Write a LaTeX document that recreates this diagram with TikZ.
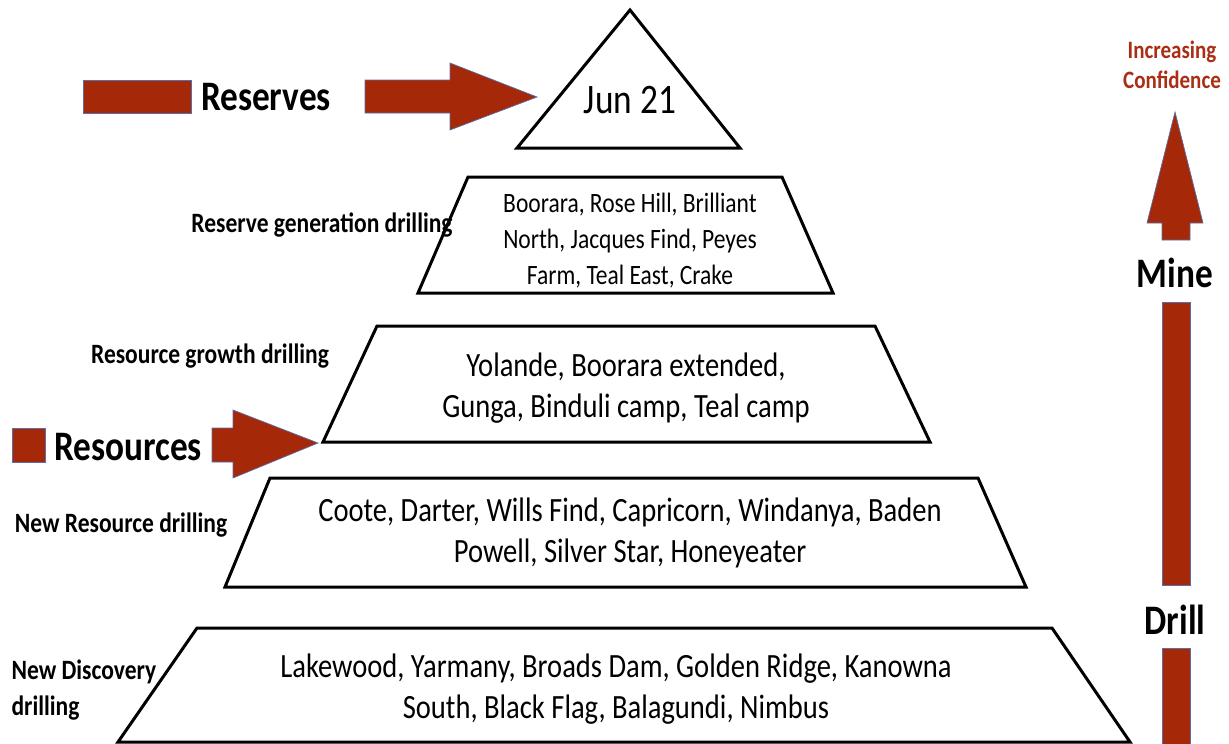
\documentclass[tikz,border=0pt]{standalone}
\usepackage{fontspec}
\setmainfont{Carlito}[FakeStretch=0.84]
\definecolor{arrowred}{RGB}{165,40,8}
\definecolor{arrowedge}{RGB}{90,110,170}
\definecolor{confred}{RGB}{170,45,20}

\tikzset{
  layer/.style={line width=3pt, draw=black, fill=white},
  blockarrow/.style={fill=arrowred, draw=arrowedge, line width=0.7pt},
  sitetext/.style={align=center, font=\fontsize{34}{41}\selectfont},
  drilllabel/.style={font=\bfseries\fontsize{28}{36}\selectfont, align=left},
  biglabel/.style={font=\bfseries\fontsize{42}{48}\selectfont}
}

\begin{document}
\begin{tikzpicture}[x=1pt, y=-1pt]
  \useasboundingbox (0,0) rectangle (1229,744);

  % Pyramid: top triangle and four layers
  \draw[layer] (517,148) -- (630,10) -- (740,148) -- cycle;
  \foreach \tl/\tr/\yt/\bl/\br/\yb in {468/782/177/418/833/293,
      377/875/326/323/930/442, 270/978/478/225/1026/587,
      197/1052/628/118/1130/742} {
    \draw[layer] (\tl,\yt) -- (\tr,\yt) -- (\br,\yb) -- (\bl,\yb) -- cycle;
  }

  % Text inside the layers
  \node[font=\fontsize{42}{48}\selectfont] (jun) at (630,100) {Jun 21};
  \node[sitetext, font=\fontsize{28}{36}\selectfont] (gen) at (630,241)
    {Boorara, Rose Hill, Brilliant\\North, Jacques Find, Peyes\\Farm, Teal East, Crake};
  \node[sitetext] (growth) at (626,388)
    {Yolande, Boorara extended,\\Gunga, Binduli camp, Teal camp};
  \node[sitetext] (newres) at (630,533)
    {Coote, Darter, Wills Find, Capricorn, Windanya, Baden\\Powell, Silver Star, Honeyeater};
  \node[sitetext] (disc) at (616,689)
    {Lakewood, Yarmany, Broads Dam, Golden Ridge, Kanowna\\South, Black Flag, Balagundi, Nimbus};

  % Labels on the left
  \node[drilllabel] (genlbl) at (322,225) {Reserve generation drilling};
  \node[drilllabel] (growthlbl) at (210,356) {Resource growth drilling};
  \node[drilllabel] (newreslbl) at (121,525) {New Resource drilling};
  \node[drilllabel, anchor=west] (disclbl) at (8,690) {New Discovery\\drilling};

  % Reserves arrow
  \draw[blockarrow] (83,80) rectangle (191,113);
  \node[biglabel] (reserves) at (266,97) {Reserves};
  \draw[blockarrow] (365,80) -- (450,80) -- (450,63) -- (537,97)
    -- (450,130) -- (450,113) -- (365,113) -- cycle;

  % Resources arrow
  \draw[blockarrow] (12,428) rectangle (45,462);
  \node[biglabel] (resources) at (128,447) {Resources};
  \draw[blockarrow] (212,428) -- (233,428) -- (233,410) -- (318,443)
    -- (233,478) -- (233,462) -- (212,462) -- cycle;

  % Confidence arrow on the right
  \node[font=\bfseries\fontsize{25}{30}\selectfont, text=confred, align=center]
    (conf) at (1172,65) {Increasing\\Confidence};
  \draw[blockarrow] (1162,240) -- (1162,223) -- (1147,223) -- (1175,112)
    -- (1203,223) -- (1190,223) -- (1190,240) -- cycle;
  \node[biglabel] (mine) at (1175,273) {Mine};
  \draw[blockarrow] (1162,302) rectangle (1190,585);
  \node[biglabel] (drill) at (1175,620) {Drill};
  \draw[blockarrow] (1162,648) rectangle (1190,744);

\end{tikzpicture}
\end{document}
